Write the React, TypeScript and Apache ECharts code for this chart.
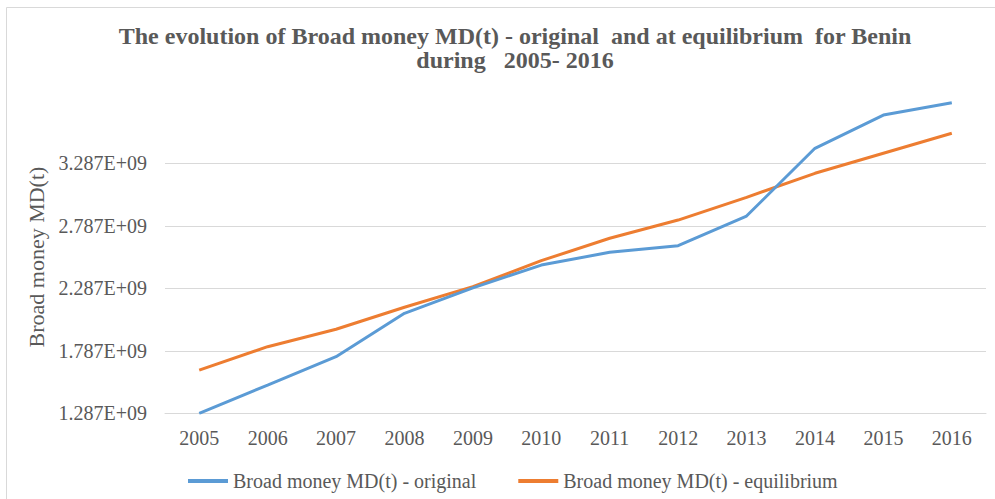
import React, { useEffect, useRef } from "react";
import * as echarts from "echarts";

const categories = ["2005", "2006", "2007", "2008", "2009", "2010", "2011", "2012", "2013", "2014", "2015", "2016"];
const originalValues = [1.287e9, 1.513e9, 1.74e9, 2.087e9, 2.29e9, 2.473e9, 2.575e9, 2.628e9, 2.865e9, 3.407e9, 3.673e9, 3.772e9];
const equilibriumValues = [1.633e9, 1.82e9, 1.959e9, 2.135e9, 2.3e9, 2.508e9, 2.687e9, 2.833e9, 3.015e9, 3.207e9, 3.367e9, 3.527e9];
const seriesNames = ["Broad money MD(t) - original", "Broad money MD(t) - equilibrium"];
const titleText = "The evolution of Broad money MD(t) - original  and at equilibrium  for Benin\nduring   2005- 2016";
const yAxisName = "Broad money MD(t)";
const yMin = 1.287e9;
const yMax = 3.787e9;
const yInterval = 0.5e9;

const FONT = "'Liberation Serif', 'Times New Roman', serif";
const TEXT = "#595959";

export default function App() {
  const ref = useRef<HTMLDivElement>(null);
  useEffect(() => {
    if (!ref.current) return;
    const chart = echarts.init(ref.current, undefined, { renderer: "svg" });
    chart.setOption({
      animation: false,
      backgroundColor: "#ffffff",
      title: {
        text: titleText,
        left: 510,
        top: 19,
        textAlign: "center",
        textStyle: {
          fontFamily: FONT,
          fontWeight: "bold",
          fontSize: 24,
          lineHeight: 24,
          color: TEXT,
        },
      },
      graphic: [
        {
          type: "rect",
          shape: { x: 6.5, y: 7.5, width: 1100, height: 700 },
          style: { fill: "none", stroke: "#d9d9d9", lineWidth: 1 },
          silent: true,
        },
      ],
      grid: { left: 165, right: 9, top: 100.8, bottom: 85.7, containLabel: false },
      legend: {
        left: 183,
        top: 466,
        icon: "rect",
        itemWidth: 40,
        itemHeight: 4,
        itemGap: 42,
        textStyle: { fontFamily: FONT, fontSize: 20, color: TEXT },
        data: seriesNames,
      },
      xAxis: {
        type: "category",
        data: categories,
        boundaryGap: true,
        axisLine: { show: true, lineStyle: { color: "#d9d9d9", width: 1 } },
        axisTick: { show: false },
        axisLabel: { fontFamily: FONT, fontSize: 20, color: TEXT, margin: 15 },
        splitLine: { show: false },
      },
      yAxis: {
        type: "value",
        min: yMin,
        max: yMax,
        interval: yInterval,
        name: yAxisName,
        nameLocation: "middle",
        nameGap: 99,
        nameTextStyle: { fontFamily: FONT, fontSize: 22, color: TEXT },
        axisLine: { show: false },
        axisTick: { show: false },
        axisLabel: {
          fontFamily: FONT,
          fontSize: 20,
          color: TEXT,
          margin: 18,
          showMaxLabel: false,
          formatter: (v: number) => (v / 1e9).toFixed(3) + "E+09",
        },
        splitLine: { show: true, showMaxLine: false, lineStyle: { color: "#d9d9d9", width: 1 } },
      },
      series: [
        {
          name: seriesNames[0],
          type: "line",
          data: originalValues,
          showSymbol: false,
          symbol: "none",
          lineStyle: { color: "#5b9bd5", width: 3 },
          itemStyle: { color: "#5b9bd5" },
          z: 3,
        },
        {
          name: seriesNames[1],
          type: "line",
          data: equilibriumValues,
          showSymbol: false,
          symbol: "none",
          lineStyle: { color: "#ed7d31", width: 3 },
          itemStyle: { color: "#ed7d31" },
          z: 2,
        },
      ],
    });
    return () => chart.dispose();
  }, []);
  return (
    <div
      ref={ref}
      style={{ position: "absolute", left: 0, top: 0, width: 995, height: 499 }}
    />
  );
}
